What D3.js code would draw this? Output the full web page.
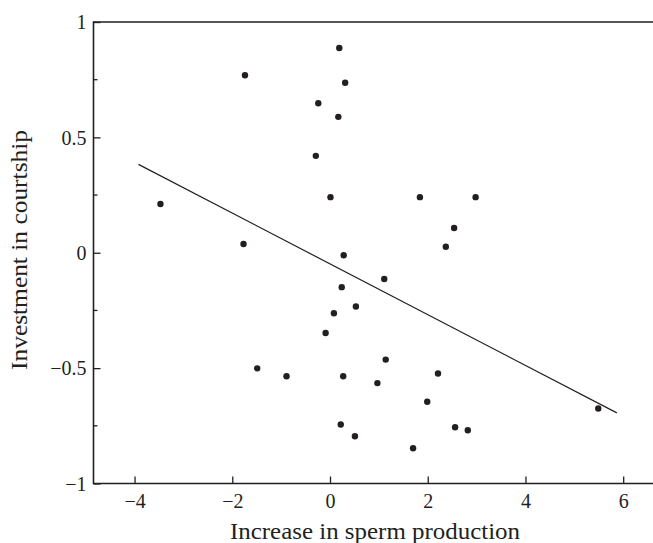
<!DOCTYPE html>
<html>
<head>
<meta charset="utf-8">
<script src="https://cdn.jsdelivr.net/npm/d3@7"></script>
<style>
  html, body { margin: 0; padding: 0; background: #fff; }
  svg { display: block; }
  text { font-family: "Liberation Serif", "DejaVu Serif", serif; fill: #231f20; }
</style>
</head>
<body>
<svg id="chart" width="653" height="543"></svg>
<script>
// Change in sperm production (x) vs. courtship investment (y), one point per male
const spermIncrease = [0.19, -1.74, 0.31, -0.24, 0.17, -0.29, 0.01, 1.84, 2.98, -3.47,
  2.54, 2.37, -1.77, 0.28, 1.11, 0.24, 0.53, 0.08, -0.09, 1.14,
  -1.49, -0.89, 0.27, 0.97, 2.21, 1.99, 5.49, 0.22, 0.51, 1.70,
  2.56, 2.82];
const courtship = [0.887, 0.769, 0.737, 0.648, 0.589, 0.420, 0.241, 0.241, 0.241, 0.211,
  0.107, 0.026, 0.038, -0.011, -0.114, -0.149, -0.233, -0.262, -0.348, -0.463,
  -0.501, -0.535, -0.535, -0.565, -0.523, -0.646, -0.675, -0.744, -0.795, -0.847,
  -0.756, -0.769];

// Fitted regression line end points
const fitX = [-3.92, 5.87];
const fitY = [0.383, -0.694];

const xTicks = [-4, -2, 0, 2, 4, 6];
const yTicks = [-1, -0.5, 0, 0.5, 1];
const yMinorTicks = [-0.75, -0.25, 0.25, 0.75];
const xTitle = "Increase in sperm production";
const yTitle = "Investment in courtship";

const svg = d3.select("#chart");
const plotLeft = 93.5, plotTop = 22, plotRight = 653, plotBottom = 483.5;

const x = d3.scaleLinear().domain([-4.84, 6.61]).range([plotLeft, plotRight]);
const y = d3.scaleLinear().domain([-1, 1]).range([plotBottom, plotTop]);

const ink = "#231f20";
const fmt = v => (v < 0 ? "\u2212" : "") + Math.abs(v);

// frame: left, top and bottom edges
svg.append("path")
  .attr("d", `M${plotRight},${plotTop}H${plotLeft}V${plotBottom}H${plotRight}`)
  .attr("fill", "none").attr("stroke", ink).attr("stroke-width", 1.6);

// x axis ticks pointing inward
const xAxis = d3.axisBottom(x).tickValues(xTicks).tickSize(0).tickFormat(fmt);
const gx = svg.append("g").attr("transform", `translate(0,${plotBottom})`).call(xAxis);
gx.select(".domain").remove();
gx.selectAll(".tick text")
  .attr("y", 24).attr("dy", 0)
  .style("font-size", "20px").style("font-family", "Liberation Serif, serif").attr("fill", ink);
gx.selectAll(".tick").append("line")
  .attr("y1", 0).attr("y2", -7).attr("stroke", ink).attr("stroke-width", 1.3);

// y axis ticks pointing inward
const yAxis = d3.axisLeft(y).tickValues(yTicks).tickSize(0).tickFormat(fmt);
const gy = svg.append("g").attr("transform", `translate(${plotLeft},0)`).call(yAxis);
gy.select(".domain").remove();
gy.selectAll(".tick text")
  .attr("x", -7).attr("dy", "0.34em")
  .style("font-size", "20px").style("font-family", "Liberation Serif, serif").attr("fill", ink);
gy.selectAll(".tick").append("line")
  .attr("x1", 0).attr("x2", 7).attr("stroke", ink).attr("stroke-width", 1.3);

svg.append("g").selectAll("line").data(yMinorTicks).join("line")
  .attr("x1", plotLeft).attr("x2", plotLeft + 4)
  .attr("y1", d => y(d)).attr("y2", d => y(d))
  .attr("stroke", ink).attr("stroke-width", 1.3);

// axis titles
svg.append("text")
  .attr("x", 375).attr("y", 539)
  .attr("text-anchor", "middle")
  .attr("textLength", 290).attr("lengthAdjust", "spacingAndGlyphs")
  .style("font-size", "23px")
  .text(xTitle);

svg.append("text")
  .attr("transform", `translate(27,250) rotate(-90)`)
  .attr("text-anchor", "middle")
  .attr("textLength", 240).attr("lengthAdjust", "spacingAndGlyphs")
  .style("font-size", "23px")
  .text(yTitle);

// regression line
svg.append("line")
  .attr("x1", x(fitX[0])).attr("y1", y(fitY[0]))
  .attr("x2", x(fitX[1])).attr("y2", y(fitY[1]))
  .attr("stroke", ink).attr("stroke-width", 1.2);

// data points
svg.append("g").selectAll("circle").data(d3.range(spermIncrease.length)).join("circle")
  .attr("cx", i => x(spermIncrease[i]))
  .attr("cy", i => y(courtship[i]))
  .attr("r", 3.2)
  .attr("fill", ink);
</script>
</body>
</html>
